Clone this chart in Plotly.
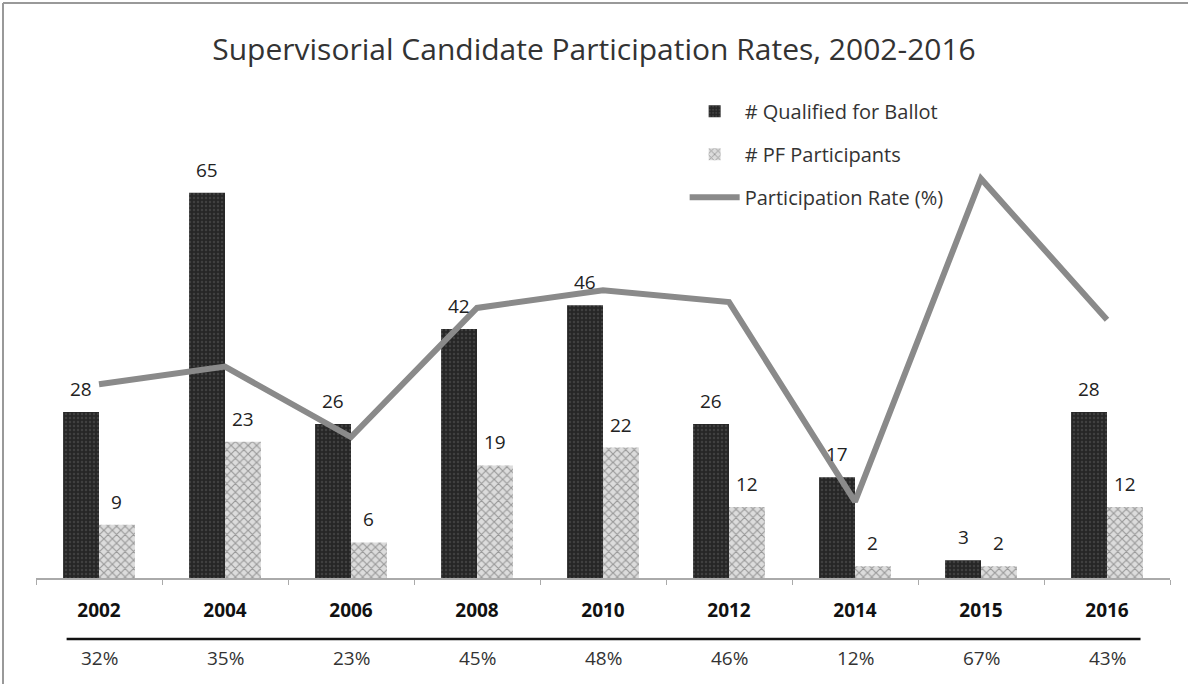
import plotly.graph_objects as go

years = ["2002", "2004", "2006", "2008", "2010", "2012", "2014", "2015", "2016"]
qualified = [28, 65, 26, 42, 46, 26, 17, 3, 28]
participants = [9, 23, 6, 19, 22, 12, 2, 2, 12]
rate = [32, 35, 23, 45, 48, 46, 12, 67, 43]
rate_labels = ["32%", "35%", "23%", "45%", "48%", "46%", "12%", "67%", "43%"]

FONT = "Open Sans"
BARGAP = 0.43
HALF = (1 - BARGAP) / 4  # offset of each bar centre from category centre

fig = go.Figure()
fig.add_trace(go.Bar(
    x=years, y=qualified, name="# Qualified for Ballot",
    legendgroup="a",
    marker=dict(color="#262626", line=dict(width=0),
                pattern=dict(shape=".", fgcolor="#5a5a5a", size=4, solidity=0.3)),
))
fig.add_trace(go.Bar(
    x=years, y=participants, name="# PF Participants",
    legendgroup="b",
    marker=dict(color="#d8d8d8", line=dict(width=0),
                pattern=dict(shape="x", fgcolor="#555", bgcolor="#dcdcdc", size=6, solidity=0.35)),
))
fig.add_trace(go.Scatter(
    x=years, y=rate, name="Participation Rate (%)",
    legendgroup="c",
    mode="lines", yaxis="y2",
    line=dict(color="#8a8a8a", width=6),
))

# value labels above bars
for i, (q, p) in enumerate(zip(qualified, participants)):
    fig.add_annotation(x=i - HALF, xref="x", y=q, yref="y", yanchor="bottom",
                       yshift=8, text=str(q), showarrow=False,
                       font=dict(size=19, color="#222", family=FONT))
    fig.add_annotation(x=i + HALF, xref="x", y=p, yref="y", yanchor="bottom",
                       yshift=8, text=str(p), showarrow=False,
                       font=dict(size=19, color="#222", family=FONT))

# bottom row of percentages
for i, lab in enumerate(rate_labels):
    fig.add_annotation(x=i, xref="x", y=-0.183, yref="paper", yanchor="middle",
                       text=lab, showarrow=False,
                       font=dict(size=19, color="#333", family=FONT))

fig.add_shape(type="line", xref="paper", yref="paper",
              x0=0.027, x1=0.974, y0=-0.139, y1=-0.139,
              line=dict(color="#111", width=2.5))
# frame lines (left & top) of the scanned page
fig.add_shape(type="line", xref="paper", yref="paper",
              x0=-0.0291, x1=-0.0291, y0=-0.25, y1=1.3128,
              line=dict(color="#999", width=2))
fig.add_shape(type="line", xref="paper", yref="paper",
              x0=-0.0291, x1=1.02, y0=1.3128, y1=1.3128,
              line=dict(color="#999", width=2))

fig.update_layout(
    width=1188, height=684,
    margin=dict(l=36, r=18, t=140, b=106),
    paper_bgcolor="white", plot_bgcolor="white",
    font=dict(family=FONT, color="#333"),
    title=dict(text="Supervisorial Candidate Participation Rates, 2002-2016",
               x=0.5, xanchor="center", y=0.927, yanchor="middle",
               font=dict(size=30, color="#333", family=FONT)),
    barmode="group", bargap=BARGAP, bargroupgap=0.0,
    xaxis=dict(type="category", showline=True, linecolor="#aaa", linewidth=1.5,
               ticks="outside", tickson="boundaries", ticklen=5, tickcolor="#aaa",
               tickfont=dict(size=19, color="#111", family=FONT, weight="bold"),
               ticklabelstandoff=14, showgrid=False),
    yaxis=dict(range=[0, 73.9], visible=False, showgrid=False),
    yaxis2=dict(range=[-1, 73.6], overlaying="y", visible=False, showgrid=False),
    legend=dict(x=0.572, y=1.11, xanchor="left", yanchor="top",
                traceorder="grouped", tracegroupgap=14,
                font=dict(size=20, color="#333", family=FONT),
                itemwidth=50, bgcolor="rgba(0,0,0,0)"),
)

fig.write_html("out.html", config={"displayModeBar": False},
               post_script="document.body.style.margin='0';")
